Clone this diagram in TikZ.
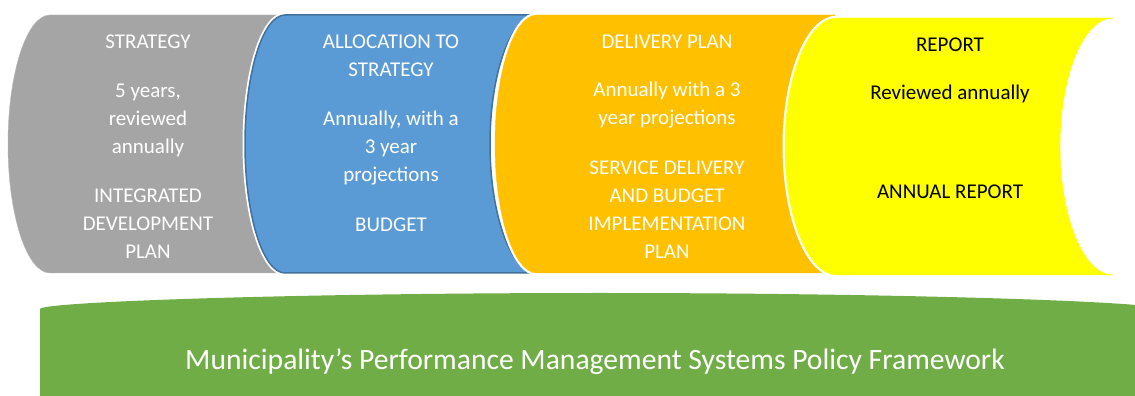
\documentclass[tikz,border=0pt]{standalone}
\usepackage{fontspec}
\setmainfont{Carlito}
\definecolor{segGray}{HTML}{A5A5A5}
\definecolor{segBlue}{HTML}{5B9BD5}
\definecolor{segBlueLine}{HTML}{41719C}
\definecolor{segOrange}{HTML}{FFC000}
\definecolor{segYellow}{HTML}{FFFF00}
\definecolor{segGreen}{HTML}{70AD47}
\begin{document}
\begin{tikzpicture}[x=1pt,y=1pt,
		segment/.style={preaction={draw=white,line width=5pt}},
		lbl/.style={inner sep=0pt, align=center, font=\fontsize{21}{28}\selectfont}]
		\useasboundingbox (0,0) rectangle (1135,396);
		% policy framework base
		\fill[segGreen, rounded corners=4pt](40,-10)--(40,83) arc[start angle=180, end angle=0, x radius=560, y radius=20]--(1160,-10)--cycle;
		% cylinder segments
		\filldraw[segment, fill=segGray, draw=segGray!80!white](50,381)--(285,381)--(285,123)--(50,123) arc[start angle=270, end angle=90, x radius=42, y radius=129]--cycle;
		\filldraw[segment, fill=segBlue, draw=segBlueLine, line width=1.5pt](285,381)--(537,381) arc[start angle=90, end angle=270, x radius=47, y radius=129]--(285,123) arc[start angle=270, end angle=90, x radius=40, y radius=129]--cycle;
		\filldraw[segment, fill=segOrange, draw=segOrange](537,381)--(835,381)--(835,123)--(537,123) arc[start angle=270, end angle=90, x radius=42, y radius=129]--cycle;
		\filldraw[segment, fill=segYellow, draw=segYellow](837,378)--(1113,378) arc[start angle=90, end angle=270, x radius=53, y radius=128.5]--(837,121) arc[start angle=270, end angle=90, x radius=52, y radius=128.5]--cycle;
		% texts
		\node[lbl, text=white] (idpTitle) at (148,354) {STRATEGY};
		\node[lbl, text=white] (idpTerm) at (148,276) {5 years,\\reviewed\\annually};
		\node[lbl, text=white] (idpName) at (148,172) {INTEGRATED\\DEVELOPMENT\\PLAN};
		\node[lbl, text=white] (budTitle) at (391,340) {ALLOCATION TO\\STRATEGY};
		\node[lbl, text=white] (budTerm) at (391,248) {Annually, with a\\3 year\\projections};
		\node[lbl, text=white] (budName) at (391,171) {BUDGET};
		\node[lbl, text=white] (sdTitle) at (667,354) {DELIVERY PLAN};
		\node[lbl, text=white] (sdTerm) at (667,291) {Annually with a 3\\year projections};
		\node[lbl, text=white] (sdName) at (667,186) {SERVICE DELIVERY\\AND BUDGET\\IMPLEMENTATION\\PLAN};
		\node[lbl, text=black] (repTitle) at (950,351) {REPORT};
		\node[lbl, text=black] (repTerm) at (950,302) {Reviewed annually};
		\node[lbl, text=black] (repName) at (950,204) {ANNUAL REPORT};
		\node[inner sep=0pt, text=white, font=\fontsize{29.6}{34}\selectfont] (pmsName) at (595,34) {Municipality’s Performance Management Systems Policy Framework};
	\end{tikzpicture}
\end{document}
